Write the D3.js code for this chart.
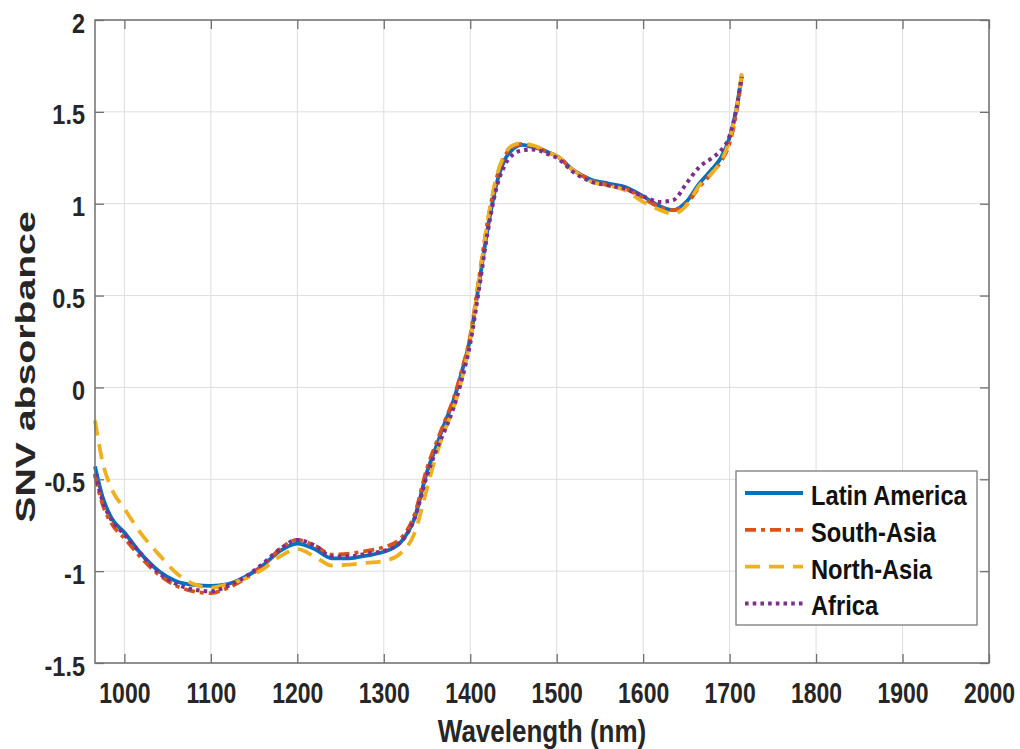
<!DOCTYPE html>
<html>
<head>
<meta charset="utf-8">
<script src="https://cdn.jsdelivr.net/npm/d3@7"></script>
<style>
  html, body { margin: 0; padding: 0; background: #fff; }
  svg { display: block; }
</style>
</head>
<body>
<svg id="chart" width="1020" height="749"></svg>
<script>
// Wavelength grid (nm) shared by all spectra
const wavelength = [966, 975, 985, 1000, 1020, 1040, 1060, 1080, 1100, 1120, 1140, 1160, 1180, 1200,
  1220, 1240, 1260, 1280, 1300, 1320, 1335, 1350, 1360, 1370, 1380, 1390, 1400, 1410, 1420, 1430,
  1440, 1450, 1460, 1470, 1480, 1490, 1500, 1520, 1540, 1560, 1580, 1600, 1620, 1635, 1650, 1665,
  1680, 1690, 1700, 1708, 1714];

// Mean SNV-corrected absorbance per origin
const latinAmerica = [-0.43, -0.60, -0.71, -0.79, -0.91, -1.00, -1.055, -1.075, -1.08, -1.07, -1.03, -0.97, -0.89, -0.85,
  -0.88, -0.93, -0.93, -0.915, -0.895, -0.84, -0.72, -0.46, -0.33, -0.20, -0.08, 0.08, 0.27, 0.56, 0.86, 1.10,
  1.24, 1.30, 1.32, 1.31, 1.30, 1.28, 1.26, 1.18, 1.13, 1.11, 1.09, 1.04, 0.985, 0.965, 1.01, 1.11,
  1.19, 1.25, 1.36, 1.52, 1.70];
const southAsia = [-0.48, -0.64, -0.74, -0.82, -0.93, -1.02, -1.08, -1.11, -1.12, -1.09, -1.04, -0.97, -0.88, -0.83,
  -0.86, -0.91, -0.905, -0.89, -0.87, -0.82, -0.70, -0.44, -0.31, -0.19, -0.07, 0.09, 0.28, 0.59, 0.90, 1.13,
  1.26, 1.31, 1.325, 1.315, 1.30, 1.28, 1.26, 1.18, 1.13, 1.10, 1.08, 1.03, 0.98, 0.965, 1.00, 1.09,
  1.17, 1.23, 1.33, 1.50, 1.69];
const northAsia = [-0.18, -0.41, -0.55, -0.66, -0.80, -0.91, -1.01, -1.07, -1.09, -1.07, -1.04, -0.99, -0.92, -0.88,
  -0.92, -0.97, -0.965, -0.955, -0.945, -0.90, -0.80, -0.55, -0.38, -0.24, -0.12, 0.04, 0.26, 0.58, 0.90, 1.14,
  1.27, 1.32, 1.33, 1.32, 1.305, 1.28, 1.26, 1.18, 1.12, 1.10, 1.07, 1.01, 0.965, 0.945, 0.99, 1.10,
  1.17, 1.23, 1.35, 1.52, 1.71];
const africa = [-0.47, -0.62, -0.72, -0.80, -0.91, -1.01, -1.07, -1.10, -1.11, -1.08, -1.03, -0.96, -0.88, -0.83,
  -0.86, -0.92, -0.92, -0.905, -0.89, -0.84, -0.72, -0.48, -0.35, -0.24, -0.12, 0.04, 0.24, 0.53, 0.84, 1.08,
  1.21, 1.27, 1.29, 1.295, 1.29, 1.27, 1.25, 1.17, 1.12, 1.10, 1.08, 1.04, 1.01, 1.02, 1.11, 1.20,
  1.25, 1.29, 1.37, 1.52, 1.69];

const seriesNames = ["Latin America", "South-Asia", "North-Asia", "Africa"];
const xTicks = [1000, 1100, 1200, 1300, 1400, 1500, 1600, 1700, 1800, 1900, 2000];
const yTicks = [-1.5, -1, -0.5, 0, 0.5, 1, 1.5, 2];

const series = [
  { name: seriesNames[0], values: latinAmerica, color: "#0072BD", dash: null,          width: 3.8 },
  { name: seriesNames[1], values: southAsia,    color: "#D95319", dash: "11,5,4,5",    width: 3.8 },
  { name: seriesNames[2], values: northAsia,    color: "#EDB120", dash: "15,9",        width: 3.8 },
  { name: seriesNames[3], values: africa,       color: "#7E2F8E", dash: "3.6,4.1",     width: 4 }
];

const svg = d3.select("#chart");
const plotLeft = 95, plotRight = 989, plotTop = 20, plotBottom = 663;
const font = "'Liberation Sans', Arial, Helvetica, sans-serif";
const axisColor = "#707070";
const textColor = "#262626";

const x = d3.scaleLinear().domain([966, 2000]).range([plotLeft, plotRight]);
const y = d3.scaleLinear().domain([-1.5, 2]).range([plotBottom, plotTop]);

// Grid
const grid = svg.append("g").attr("stroke", "#dedede").attr("stroke-width", 1);
grid.selectAll("line.gx").data(xTicks).join("line").attr("class", "gx")
  .attr("x1", d => x(d)).attr("x2", d => x(d)).attr("y1", plotTop).attr("y2", plotBottom);
grid.selectAll("line.gy").data(yTicks).join("line").attr("class", "gy")
  .attr("x1", plotLeft).attr("x2", plotRight).attr("y1", d => y(d)).attr("y2", d => y(d));

// Spectra
const line = d3.line()
  .x((d, i) => x(wavelength[i]))
  .y(d => y(d))
  .curve(d3.curveMonotoneX);

svg.append("g").selectAll("path").data(series).join("path")
  .attr("d", s => line(s.values))
  .attr("fill", "none")
  .attr("stroke", s => s.color)
  .attr("stroke-width", s => s.width)
  .attr("stroke-dasharray", s => s.dash)
  .attr("stroke-linejoin", "round");

// Axes (ticks point inward, box on all four sides)
function styleAxis(g) {
  g.attr("font-family", font).attr("font-size", null);
  g.select(".domain").remove();
  g.selectAll(".tick line").attr("stroke", axisColor).attr("stroke-width", 1.3);
}

const gx = svg.append("g").attr("transform", `translate(0,${plotBottom})`)
  .call(d3.axisBottom(x).tickValues(xTicks).tickSize(-9).tickFormat(d => String(d)))
  .call(styleAxis);
gx.selectAll(".tick text")
  .attr("y", null).attr("dy", null)
  .attr("transform", "translate(0,40) scale(1,1.26)")
  .attr("font-size", 23).attr("font-weight", "bold").attr("fill", textColor)
  .attr("text-anchor", "middle");

const gy = svg.append("g").attr("transform", `translate(${plotLeft},0)`)
  .call(d3.axisLeft(y).tickValues(yTicks).tickSize(-9).tickFormat(d => String(d)))
  .call(styleAxis);
gy.selectAll(".tick text")
  .attr("x", null).attr("dy", null)
  .attr("transform", "translate(-10,12) scale(1,1.15)")
  .attr("font-size", 23.5).attr("font-weight", "bold").attr("fill", textColor)
  .attr("text-anchor", "end");

svg.append("g").attr("transform", `translate(0,${plotTop})`)
  .call(d3.axisTop(x).tickValues(xTicks).tickSize(-9).tickFormat(""))
  .call(styleAxis);
svg.append("g").attr("transform", `translate(${plotRight},0)`)
  .call(d3.axisRight(y).tickValues(yTicks).tickSize(-9).tickFormat(""))
  .call(styleAxis);

svg.append("rect")
  .attr("x", plotLeft).attr("y", plotTop)
  .attr("width", plotRight - plotLeft).attr("height", plotBottom - plotTop)
  .attr("fill", "none").attr("stroke", axisColor).attr("stroke-width", 1.5);

// Axis titles
svg.append("text")
  .attr("transform", `translate(${(plotLeft + plotRight) / 2},742) scale(1,1.2)`)
  .attr("text-anchor", "middle")
  .attr("font-family", font).attr("font-size", 26).attr("font-weight", "bold").attr("fill", textColor)
  .text("Wavelength (nm)");

svg.append("text")
  .attr("transform", "translate(35,367) scale(1,1.4) rotate(-90)")
  .attr("text-anchor", "middle")
  .attr("font-family", font).attr("font-size", 28).attr("font-weight", "bold").attr("fill", textColor)
  .text("SNV absorbance");

// Legend
const legend = svg.append("g");
legend.append("rect")
  .attr("x", 736).attr("y", 471).attr("width", 241).attr("height", 154)
  .attr("fill", "#fff").attr("stroke", "#7a7a7a").attr("stroke-width", 1.3);

const rows = legend.selectAll("g.row").data(series).join("g").attr("class", "row")
  .attr("transform", (s, i) => `translate(0,${493 + i * 36.8})`);
rows.append("line")
  .attr("x1", 745).attr("x2", 803).attr("y1", 0).attr("y2", 0)
  .attr("stroke", s => s.color)
  .attr("stroke-width", s => s.width)
  .attr("stroke-dasharray", s => s.dash);
rows.append("text")
  .attr("transform", "translate(811,12) scale(1,1.2)")
  .attr("font-family", font).attr("font-size", 23.7).attr("font-weight", "bold").attr("fill", "#111")
  .text(s => s.name);
</script>
</body>
</html>
